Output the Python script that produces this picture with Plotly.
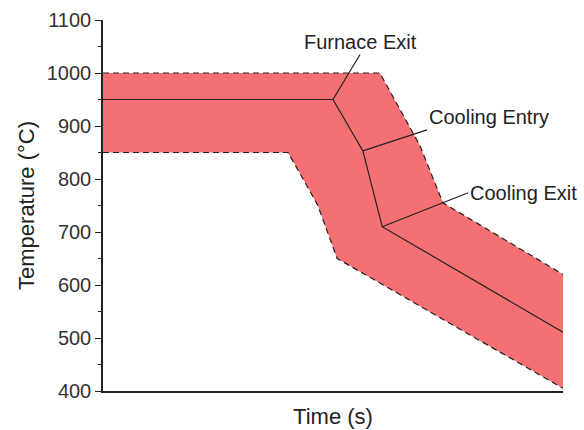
import plotly.graph_objects as go

# Time (arbitrary units, no tick labels on the axis)
center_x = [0, 50, 56.5, 60.7, 100]
center_y = [950, 950, 853, 710, 511]

upper_x = [0, 60.2, 68.9, 73.9, 100]
upper_y = [1000, 1000, 863, 755, 620]

lower_x = [0, 40.2, 43.5, 46.7, 50.9, 100]
lower_y = [850, 850, 800, 750, 650, 405]

labels = ["Furnace Exit", "Cooling Entry", "Cooling Exit"]
label_idx = [1, 2, 3]  # points on the centre line the labels point at

FONT = "Arial, 'Liberation Sans', sans-serif"
FILL = "#F57072"
INK = "#222222"

fig = go.Figure()

# filled band built from upper and reversed lower boundaries
band_x = upper_x + lower_x[::-1]
band_y = upper_y + lower_y[::-1]
fig.add_trace(go.Scatter(x=band_x, y=band_y, fill="toself", fillcolor=FILL,
                         line=dict(width=0), mode="lines", hoverinfo="skip",
                         showlegend=False))

fig.add_trace(go.Scatter(x=upper_x, y=upper_y, mode="lines",
                         line=dict(color=INK, width=1.2, dash="6px,4px"),
                         showlegend=False))
fig.add_trace(go.Scatter(x=lower_x, y=lower_y, mode="lines",
                         line=dict(color=INK, width=1.2, dash="6px,4px"),
                         showlegend=False))
fig.add_trace(go.Scatter(x=center_x, y=center_y, mode="lines",
                         line=dict(color=INK, width=1.2),
                         showlegend=False))

# label placement (pixel offsets of the label tail from the pointed point)
offsets = [(27, -45, "center", "bottom"),
           (64, -21, "left", "bottom"),
           (86, -34, "left", "middle")]
for lab, i, (ax, ay, xa, ya) in zip(labels, label_idx, offsets):
    fig.add_annotation(x=center_x[i], y=center_y[i], text=lab,
                       showarrow=True, arrowhead=0, arrowwidth=1.2,
                       arrowcolor=INK, ax=ax, ay=ay, xanchor=xa, yanchor=ya,
                       font=dict(family=FONT, size=20, color=INK))

fig.update_layout(
    width=584, height=430,
    margin=dict(l=103, r=21, t=20, b=39),
    paper_bgcolor="white", plot_bgcolor="white",
    font=dict(family=FONT, color=INK),
    xaxis=dict(range=[0, 100], showline=True, linecolor=INK, linewidth=1.5,
               showgrid=False, zeroline=False, ticks="", showticklabels=False,
               automargin=False,
               title=dict(text="Time (s)", font=dict(size=22, family=FONT, color=INK),
                          standoff=17)),
    yaxis=dict(range=[400, 1100], dtick=100, showline=True, linecolor=INK,
               linewidth=1.5, showgrid=False, zeroline=False, automargin=False,
               ticks="outside", ticklen=6, tickwidth=1.3, tickcolor=INK,
               minor=dict(dtick=50, ticks="outside", ticklen=3, tickwidth=1.3,
                          tickcolor=INK, showgrid=False),
               tickfont=dict(size=20, family=FONT, color="#333333"),
               title=dict(text="Temperature (°C)",
                          font=dict(size=22, family=FONT, color=INK),
                          standoff=6)),
)

fig.write_html("out.html")
